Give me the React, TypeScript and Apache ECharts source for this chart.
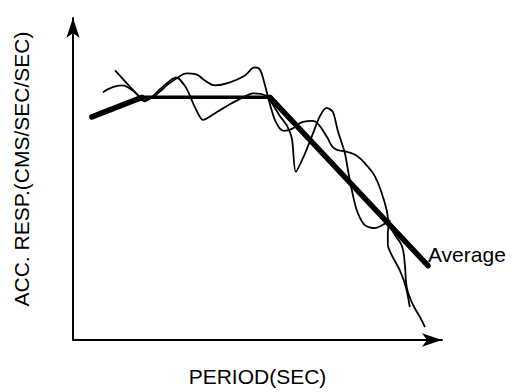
import React, { useEffect, useRef } from "react";
import * as echarts from "echarts";

// Period (x) and acceleration response (y) in arbitrary schematic units.
const averagePeriod = [0.5, 1.82, 5.2, 9.37];
const averageResp = [6.72, 7.31, 7.31, 2.24];

const recordAPeriod = [
  1.11, 1.69, 1.9, 2.35, 2.72, 2.98, 3.22, 3.43, 3.8, 4.14, 4.49, 4.75, 5.07, 5.25, 5.46, 5.65, 5.78,
  5.88, 6.12, 6.33, 6.52, 6.7, 6.86, 6.99, 7.18, 7.26, 7.36, 7.49, 7.7, 7.97, 8.21, 8.36, 8.31, 8.31,
  8.42, 8.63, 8.79, 8.89,
];
const recordAResp = [
  8.12, 7.4, 7.19, 7.61, 7.91, 7.61, 7.01, 6.63, 6.87, 7.1, 7.31, 7.43, 7.37, 7.13, 6.75, 6.45, 6.06,
  5.07, 5.61, 6.21, 6.75, 6.99, 6.87, 6.3, 5.61, 5.1, 4.51, 3.91, 3.46, 3.37, 3.49, 3.61, 3.22, 2.87,
  2.54, 2.09, 1.58, 0.99,
];

const recordBPeriod = [
  0.79, 1.03, 1.29, 1.5, 1.72, 1.85, 2.08, 2.3, 2.51, 2.77, 3.01, 3.25, 3.48, 3.75, 4.14, 4.54, 4.8,
  4.93, 5.04, 5.15, 5.25, 5.38, 5.57, 5.78, 6.07, 6.33, 6.49, 6.7, 6.91, 7.23, 7.49, 7.76, 7.97, 8.15,
  8.28, 8.34, 8.5, 8.68, 8.76, 8.81, 8.97, 9.16, 9.29,
];
const recordBResp = [
  7.46, 7.61, 7.67, 7.58, 7.37, 7.22, 7.31, 7.49, 7.7, 7.91, 8.03, 8.0, 7.82, 7.67, 7.76, 7.97, 8.21,
  8.15, 7.79, 7.31, 6.9, 6.51, 6.3, 6.36, 6.57, 6.6, 6.48, 6.12, 5.76, 5.67, 5.55, 5.25, 4.93, 4.42,
  3.91, 3.52, 3.16, 2.84, 2.27, 1.58, 1.07, 0.69, 0.39,
];

const xTitle = "PERIOD(SEC)";
const yTitle = "ACC. RESP.(CMS/SEC/SEC)";
const averageLabel = "Average";

const zip = (xs: number[], ys: number[]) => xs.map((x, i) => [x, ys[i]]);

const FONT = "'Liberation Sans', Arial, Helvetica, sans-serif";

// The average line is drawn segment by segment: the plateau is pen-drawn thinner.
const averageSegments = [
  { from: 0, to: 1, width: 5.5 },
  { from: 1, to: 2, width: 3.5 },
  { from: 2, to: 3, width: 5.5 },
];

export default function App() {
  const ref = useRef<HTMLDivElement>(null);

  useEffect(() => {
    if (!ref.current) return;
    const chart = echarts.init(ref.current, undefined, { renderer: "svg" });
    const axisLine = {
      show: true,
      symbol: ["none", "arrow"],
      symbolSize: [10, 20],
      lineStyle: { color: "#000", width: 2 },
    };
    const averagePoints = zip(averagePeriod, averageResp);
    const averageSeries = averageSegments.map((seg, i) => ({
      type: "line",
      data: averagePoints.slice(seg.from, seg.to + 1),
      showSymbol: false,
      lineStyle: { color: "#000", width: seg.width, cap: "round" },
      endLabel:
        i === averageSegments.length - 1
          ? {
              show: true,
              formatter: averageLabel,
              color: "#000",
              fontSize: 21,
              fontFamily: FONT,
              distance: 0,
              offset: [0, -11],
            }
          : { show: false },
    }));
    chart.setOption({
      animation: false,
      backgroundColor: "#fff",
      grid: { left: 73, right: 79, top: 18, bottom: 49 },
      xAxis: {
        type: "value",
        min: 0,
        max: 9.74,
        axisLine,
        axisTick: { show: false },
        axisLabel: { show: false },
        splitLine: { show: false },
        name: xTitle,
        nameLocation: "middle",
        nameGap: 26,
        nameTextStyle: { color: "#000", fontSize: 21, fontFamily: FONT },
      },
      yAxis: {
        type: "value",
        min: 0,
        max: 9.7,
        axisLine,
        axisTick: { show: false },
        axisLabel: { show: false },
        splitLine: { show: false },
        name: yTitle,
        nameLocation: "middle",
        nameGap: 41,
        nameRotate: 90,
        nameTextStyle: { color: "#000", fontSize: 21, fontFamily: FONT, padding: [0, 0, 0, 20] },
      },
      series: [
        {
          type: "line",
          data: zip(recordAPeriod, recordAResp),
          smooth: 0.25,
          showSymbol: false,
          lineStyle: { color: "#000", width: 1.8 },
        },
        {
          type: "line",
          data: zip(recordBPeriod, recordBResp),
          smooth: 0.45,
          showSymbol: false,
          lineStyle: { color: "#000", width: 1.8 },
        },
        ...averageSeries,
      ],
    });
    return () => chart.dispose();
  }, []);

  return (
    <div
      ref={ref}
      style={{ position: "fixed", left: 0, top: 0, width: 521, height: 392, background: "#fff" }}
    />
  );
}
